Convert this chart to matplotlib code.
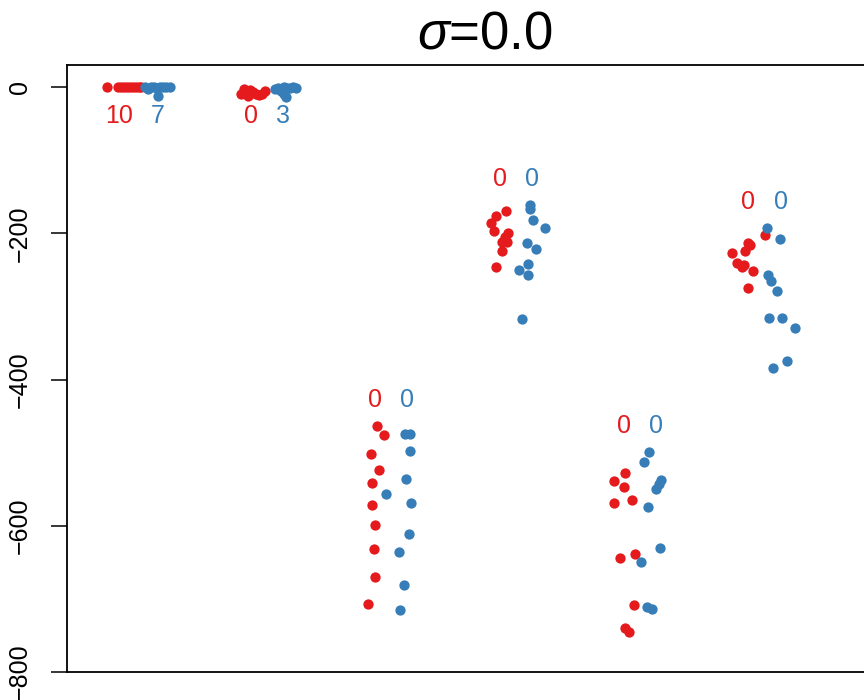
import numpy as np
import matplotlib
matplotlib.use("Agg")
import matplotlib.pyplot as plt

plt.rcParams["font.family"] = ["Liberation Sans", "DejaVu Sans"]
plt.rcParams["mathtext.fontset"] = "custom"
plt.rcParams["mathtext.rm"] = "Liberation Sans"
plt.rcParams["mathtext.it"] = "Liberation Sans:italic"

RED = "#E41A1C"
BLUE = "#377EB8"

# values, one list per group (red / blue)
red_vals = [
    [0, 0, 0, 0, 0, 0, 0, 0, 0, 0],
    [-9, -3, -5, -4, -7, -10, -11, -9, -6, -12],
    [-463.6, -475.9, -501.9, -523.8, -541.6, -571.6, -599.0, -631.8, -670.0, -707.0],
    [-169.6, -176.4, -186.0, -197.0, -199.7, -205.0, -212.0, -212.0, -224.0, -246.0],
    [-527.9, -538.8, -547.0, -564.8, -568.9, -638.6, -644.1, -708.4, -739.8, -745.3],
    [-202.4, -213.3, -216.1, -224.3, -227.0, -240.7, -243.4, -246.2, -251.6, -274.9],
]
blue_vals = [
    [0, -3, 0, 0, -2, 0, 0, 0, 0, -12],
    [-3, -1, -6, 0, -2, -1, 0, -1, -10, -13],
    [-474.5, -474.5, -497.8, -536.0, -556.6, -568.9, -611.3, -635.9, -681.0, -715.2],
    [-161.4, -166.8, -181.9, -192.8, -213.3, -221.5, -242.0, -250.3, -257.0, -317.3],
    [-499.1, -512.8, -537.4, -542.9, -549.7, -574.4, -630.4, -649.6, -711.1, -713.8],
    [-192.8, -207.9, -257.1, -265.3, -279.0, -315.9, -315.9, -329.6, -374.7, -384.3],
]
# horizontal jitter of each point
red_jit = [
    [-0.266, -0.177, -0.153, -0.129, -0.105, -0.081, -0.056, -0.032, -0.008, 0.008],
    [-0.187, -0.163, -0.138, -0.114, -0.090, -0.066, -0.042, -0.017, 0.006, -0.130],
    [-0.092, -0.043, -0.148, -0.076, -0.140, -0.140, -0.116, -0.124, -0.116, -0.172],
    [-0.061, -0.142, -0.182, -0.158, -0.045, -0.069, -0.093, -0.053, -0.093, -0.142],
    [-0.103, -0.192, -0.111, -0.047, -0.192, -0.023, -0.143, -0.031, -0.103, -0.071],
    [0.024, -0.113, -0.097, -0.137, -0.242, -0.201, -0.145, -0.161, -0.072, -0.113],
]
blue_jit = [
    [0.040, 0.064, 0.089, 0.113, 0.137, 0.161, 0.185, 0.209, 0.242, 0.145],
    [0.087, 0.111, 0.135, 0.159, 0.184, 0.208, 0.232, 0.256, 0.159, 0.175],
    [0.126, 0.166, 0.166, 0.134, -0.027, 0.174, 0.158, 0.077, 0.118, 0.085],
    [0.132, 0.132, 0.156, 0.253, 0.108, 0.180, 0.116, 0.043, 0.116, 0.068],
    [0.090, 0.050, 0.187, 0.171, 0.147, 0.082, 0.179, 0.026, 0.074, 0.114],
    [0.040, 0.145, 0.048, 0.072, 0.121, 0.056, 0.161, 0.266, 0.201, 0.089],
]
red_counts = [10, 0, 0, 0, 0, 0]
blue_counts = [7, 3, 0, 0, 0, 0]
yticks = [0, -200, -400, -600, -800]

fig = plt.figure(figsize=(8.64, 7.0), dpi=100)
ax = fig.add_axes([0.0775, 0.04, 0.9676, 0.867])

for k in range(len(red_vals)):
    xc = k + 1
    ax.scatter(xc + np.array(red_jit[k]), red_vals[k], s=55, color=RED,
               linewidths=0, zorder=3)
    ax.scatter(xc + np.array(blue_jit[k]), blue_vals[k], s=55, color=BLUE,
               linewidths=0, zorder=3)
    top = max(max(red_vals[k]), max(blue_vals[k]))
    ly = top + 36 if top < -100 else -40
    ax.text(xc - 0.055, ly, str(red_counts[k]), color=RED, fontsize=18,
            ha="right", va="center")
    ax.text(xc + 0.09, ly, str(blue_counts[k]), color=BLUE, fontsize=18,
            ha="left", va="center")

ax.set_xlim(0.413, 7.13)
ax.set_ylim(-800, 30)
ax.set_xticks([])
ax.set_yticks(yticks)
ax.set_yticklabels([str(t).replace("-", "\u2212") for t in yticks],
                   rotation=90, va="center")
ax.tick_params(axis="y", length=11.5, width=1.1, pad=14, labelsize=18)
for sp in ax.spines.values():
    sp.set_linewidth(1.3)
ax.set_title(r"$\sigma$=0.0", fontsize=38, pad=12)

fig.savefig("out.png", dpi=100)
